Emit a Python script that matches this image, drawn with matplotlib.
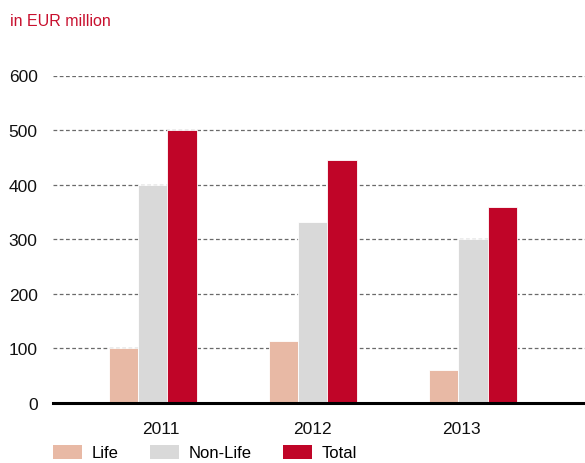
import numpy as np
import matplotlib
matplotlib.use("Agg")
import matplotlib.pyplot as plt
from matplotlib.patches import Patch

plt.rcParams['font.family'] = ['Liberation Sans', 'DejaVu Sans']

# data
years = ['2011', '2012', '2013']
life = [100, 114, 61]
non_life = [400, 332, 300]
total = [500, 446, 360]
y_ticks = [0, 100, 200, 300, 400, 500, 600]

c_life = '#E8B9A5'
c_nonlife = '#D9D9D9'
c_total = '#C00528'
c_title = '#C8102E'

fig = plt.figure(figsize=(5.85, 4.64), dpi=100)
ax = fig.add_axes([53 / 585, 60 / 464, 532 / 585, 327.5 / 464])

x = np.arange(len(years))
w = 0.182
for i, (vals, col) in enumerate([(life, c_life), (non_life, c_nonlife), (total, c_total)]):
    ax.bar(x + (i - 1) * w, vals, width=w, color=col, edgecolor='white',
           linewidth=0.6, zorder=3)

ax.set_xlim(-0.624, 2.7)
ax.set_ylim(0, 600)
ax.set_yticks(y_ticks)
ax.set_yticklabels([str(v) for v in y_ticks], fontsize=12.5, color='#111111')
ax.tick_params(axis='y', length=0, pad=11)

# year labels sit a bit off the group centres in the original
ax.set_xticks(x + np.array([0.05, 0.0, -0.07]))
ax.set_xticklabels(years, fontsize=12.5, color='#111111')
ax.tick_params(axis='x', length=0, pad=13)

for v in y_ticks[1:]:
    ax.axhline(v, color='#6a6a6a', linewidth=0.9, linestyle=(0, (3, 2)), zorder=1)
ax.axhline(0, color='black', linewidth=2.2, zorder=4, clip_on=False)

for s in ax.spines.values():
    s.set_visible(False)

fig.text(10 / 585, 1 - 22 / 464, 'in EUR million', color=c_title, fontsize=11.5,
         va='center', ha='left')

handles = [Patch(facecolor=c_life, label='Life'),
           Patch(facecolor=c_nonlife, label='Non-Life'),
           Patch(facecolor=c_total, label='Total')]
fig.legend(handles=handles, loc='lower left', bbox_to_anchor=(46 / 585, -4 / 464),
           ncol=3, frameon=False, fontsize=12, handlelength=1.75, handleheight=0.9,
           handletextpad=0.6, columnspacing=1.85, borderaxespad=0)

fig.savefig('out.png', dpi=100)
